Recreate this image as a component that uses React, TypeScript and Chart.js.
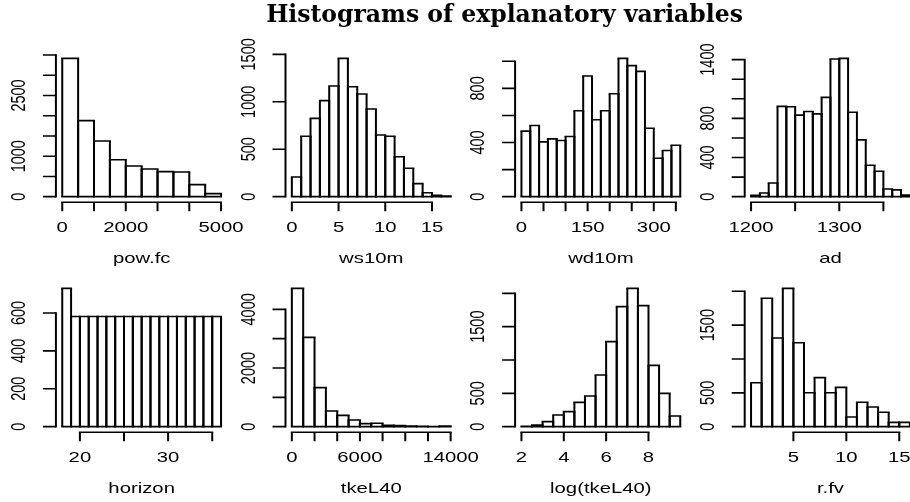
import React, { useEffect, useRef } from "react";
import { Chart, registerables } from "chart.js";

Chart.register(...registerables);

// ---------------- data ----------------
const TITLE = "Histograms of explanatory variables";

const powFcBreaks = [0, 500, 1000, 1500, 2000, 2500, 3000, 3500, 4000, 4500, 5000];
const powFcCounts = [3418, 1878, 1376, 914, 758, 684, 618, 610, 297, 74];
const powFcXTicks = [0, 1000, 2000, 3000, 4000, 5000];
const powFcXLabels = [0, 2000, 5000];
const powFcYTicks = [0, 500, 1000, 1500, 2000, 2500, 3000, 3500];
const powFcYLabels = [0, 1000, 2500];

const ws10mBreaks = [0, 1, 2, 3, 4, 5, 6, 7, 8, 9, 10, 11, 12, 13, 14, 15, 16, 17];
const ws10mCounts = [207, 636, 825, 1012, 1166, 1458, 1159, 1082, 924, 650, 636, 421, 299, 137, 42, 14, 7];
const ws10mXTicks = [0, 5, 10, 15];
const ws10mXLabels = [0, 5, 10, 15];
const ws10mYTicks = [0, 500, 1000, 1500];
const ws10mYLabels = [0, 500, 1000, 1500];

const wd10mBreaks = [0, 20, 40, 60, 80, 100, 120, 140, 160, 180, 200, 220, 240, 260, 280, 300, 320, 340, 360];
const wd10mCounts = [484, 526, 405, 427, 415, 444, 635, 891, 568, 635, 760, 1022, 968, 926, 506, 284, 341, 380];
const wd10mXTicks = [0, 50, 100, 150, 200, 250, 300, 350];
const wd10mXLabels = [0, 150, 300];
const wd10mYTicks = [0, 200, 400, 600, 800, 1000];
const wd10mYLabels = [0, 400, 800];

const adBreaks = [1200, 1210, 1220, 1230, 1240, 1250, 1260, 1270, 1280, 1290, 1300, 1310, 1320, 1330, 1340, 1350, 1360, 1370, 1380];
const adCounts = [14, 38, 140, 922, 918, 833, 870, 846, 1014, 1406, 1413, 863, 580, 321, 259, 79, 69, 17];
const adXTicks = [1200, 1250, 1300, 1350];
const adXLabels = [1200, 1300];
const adYTicks = [0, 200, 400, 600, 800, 1000, 1200, 1400];
const adYLabels = [0, 400, 800, 1400];

const horizonBreaks = [18, 19, 20, 21, 22, 23, 24, 25, 26, 27, 28, 29, 30, 31, 32, 33, 34, 35, 36];
const horizonCounts = [730, 581, 581, 581, 581, 581, 581, 581, 581, 581, 581, 581, 581, 581, 581, 581, 581, 581];
const horizonXTicks = [20, 25, 30, 35];
const horizonXLabels = [20, 30];
const horizonYTicks = [0, 200, 400, 600];
const horizonYLabels = [0, 200, 400, 600];

const tkeBreaks = [0, 1000, 2000, 3000, 4000, 5000, 6000, 7000, 8000, 9000, 10000, 11000, 12000, 13000, 14000];
const tkeCounts = [4716, 3045, 1330, 534, 386, 227, 102, 118, 50, 40, 20, 10, 8, 20];
const tkeXTicks = [0, 2000, 4000, 6000, 8000, 10000, 12000, 14000];
const tkeXLabels = [0, 6000, 14000];
const tkeYTicks = [0, 1000, 2000, 3000, 4000];
const tkeYLabels = [0, 2000, 4000];

const logTkeBreaks = [2, 2.5, 3, 3.5, 4, 4.5, 5, 5.5, 6, 6.5, 7, 7.5, 8, 8.5, 9, 9.5];
const logTkeCounts = [5, 25, 75, 175, 225, 365, 460, 775, 1275, 1800, 2075, 1815, 920, 500, 160];
const logTkeXTicks = [2, 4, 6, 8];
const logTkeXLabels = [2, 4, 6, 8];
const logTkeYTicks = [0, 500, 1000, 1500, 2000];
const logTkeYLabels = [0, 500, 1500];

const rfvBreaks = [1, 2, 3, 4, 5, 6, 7, 8, 9, 10, 11, 12, 13, 14, 15, 16];
const rfvCounts = [650, 1897, 1310, 2044, 1241, 502, 724, 502, 581, 143, 360, 291, 212, 64, 64];
const rfvXTicks = [5, 10, 15];
const rfvXLabels = [5, 10, 15];
const rfvYTicks = [0, 500, 1000, 1500, 2000];
const rfvYLabels = [0, 500, 1500];

// ---------------- layout / style ----------------
const PAGE_W = 910;
const PAGE_H = 502;
const CANVAS_W = 940;
const COL_LEFT = [55.9, 285.5, 515.1, 744.7];
const ROW_TOP = [52.8, 282.8];
const PLOT_W = 171.5;
const PLOT_H = 149.4;
const SX = 1.4; // horizontal text stretch
const FONT = "14.5px 'Liberation Sans', Arial, sans-serif";
const V_LW = 2.0;
const H_LW = 1.6;
const X_TICK_LEN = 9;
const Y_TICK_LEN = 13;

type Panel = {
  name: string;
  breaks: number[];
  counts: number[];
  xTicks: number[];
  xLabels: number[];
  yTicks: number[];
  yLabels: number[];
  row: number;
  col: number;
};

const panels: Panel[] = [
  { name: "pow.fc", breaks: powFcBreaks, counts: powFcCounts, xTicks: powFcXTicks, xLabels: powFcXLabels, yTicks: powFcYTicks, yLabels: powFcYLabels, row: 0, col: 0 },
  { name: "ws10m", breaks: ws10mBreaks, counts: ws10mCounts, xTicks: ws10mXTicks, xLabels: ws10mXLabels, yTicks: ws10mYTicks, yLabels: ws10mYLabels, row: 0, col: 1 },
  { name: "wd10m", breaks: wd10mBreaks, counts: wd10mCounts, xTicks: wd10mXTicks, xLabels: wd10mXLabels, yTicks: wd10mYTicks, yLabels: wd10mYLabels, row: 0, col: 2 },
  { name: "ad", breaks: adBreaks, counts: adCounts, xTicks: adXTicks, xLabels: adXLabels, yTicks: adYTicks, yLabels: adYLabels, row: 0, col: 3 },
  { name: "horizon", breaks: horizonBreaks, counts: horizonCounts, xTicks: horizonXTicks, xLabels: horizonXLabels, yTicks: horizonYTicks, yLabels: horizonYLabels, row: 1, col: 0 },
  { name: "tkeL40", breaks: tkeBreaks, counts: tkeCounts, xTicks: tkeXTicks, xLabels: tkeXLabels, yTicks: tkeYTicks, yLabels: tkeYLabels, row: 1, col: 1 },
  { name: "log(tkeL40)", breaks: logTkeBreaks, counts: logTkeCounts, xTicks: logTkeXTicks, xLabels: logTkeXLabels, yTicks: logTkeYTicks, yLabels: logTkeYLabels, row: 1, col: 2 },
  { name: "r.fv", breaks: rfvBreaks, counts: rfvCounts, xTicks: rfvXTicks, xLabels: rfvXLabels, yTicks: rfvYTicks, yLabels: rfvYLabels, row: 1, col: 3 },
];

function drawText(ctx: CanvasRenderingContext2D, text: string, x: number, y: number, rotate: boolean) {
  ctx.save();
  ctx.translate(x, y);
  ctx.scale(SX, 1);
  if (rotate) ctx.rotate(-Math.PI / 2);
  ctx.fillText(text, 0, 0);
  ctx.restore();
}

function makePlugin(p: Panel) {
  return {
    id: "rhist",
    afterDatasetsDraw(chart: any) {
      const ctx: CanvasRenderingContext2D = chart.ctx;
      const meta = chart.getDatasetMeta(0);
      ctx.save();
      ctx.strokeStyle = "#000";
      ctx.lineCap = "butt";
      meta.data.forEach((el: any) => {
        const { x, y, base, width } = el.getProps(["x", "y", "base", "width"], true);
        const x0 = x - width / 2;
        const x1 = x + width / 2;
        ctx.lineWidth = H_LW;
        ctx.beginPath();
        ctx.moveTo(x0 - V_LW / 2, y);
        ctx.lineTo(x1 + V_LW / 2, y);
        ctx.moveTo(x0 - V_LW / 2, base);
        ctx.lineTo(x1 + V_LW / 2, base);
        ctx.stroke();
        ctx.lineWidth = V_LW;
        ctx.beginPath();
        ctx.moveTo(x0, base);
        ctx.lineTo(x0, y);
        ctx.moveTo(x1, base);
        ctx.lineTo(x1, y);
        ctx.stroke();
      });
      ctx.restore();
    },
    afterDraw(chart: any) {
      const ctx: CanvasRenderingContext2D = chart.ctx;
      const xs = chart.scales.x;
      const ys = chart.scales.y;
      const area = chart.chartArea;
      ctx.save();
      ctx.strokeStyle = "#000";
      ctx.fillStyle = "#000";
      ctx.font = FONT;
      // x axis
      const xb = area.bottom;
      const xp = p.xTicks.map((v) => xs.getPixelForValue(v));
      ctx.lineWidth = H_LW;
      ctx.beginPath();
      ctx.moveTo(xp[0] - V_LW / 2, xb);
      ctx.lineTo(xp[xp.length - 1] + V_LW / 2, xb);
      ctx.stroke();
      ctx.lineWidth = V_LW;
      ctx.beginPath();
      xp.forEach((px) => {
        ctx.moveTo(px, xb);
        ctx.lineTo(px, xb + X_TICK_LEN);
      });
      ctx.stroke();
      ctx.textAlign = "center";
      ctx.textBaseline = "alphabetic";
      p.xLabels.forEach((v) => drawText(ctx, String(v), xs.getPixelForValue(v), xb + 30, false));
      drawText(ctx, p.name, (area.left + area.right) / 2, xb + 61, false);
      // y axis
      const yl = area.left;
      const yp = p.yTicks.map((v) => ys.getPixelForValue(v));
      ctx.lineWidth = V_LW;
      ctx.beginPath();
      ctx.moveTo(yl, yp[0] + H_LW / 2);
      ctx.lineTo(yl, yp[yp.length - 1] - H_LW / 2);
      ctx.stroke();
      ctx.lineWidth = H_LW;
      ctx.beginPath();
      yp.forEach((py) => {
        ctx.moveTo(yl, py);
        ctx.lineTo(yl - Y_TICK_LEN, py);
      });
      ctx.stroke();
      p.yLabels.forEach((v) => drawText(ctx, String(v), yl - 31, ys.getPixelForValue(v), true));
      ctx.restore();
    },
  };
}

function HistPanel({ p }: { p: Panel }) {
  const ref = useRef<HTMLCanvasElement | null>(null);
  useEffect(() => {
    if (!ref.current) return;
    const xmin = p.breaks[0];
    const xmax = p.breaks[p.breaks.length - 1];
    const xr = xmax - xmin;
    const ymax = Math.max(...p.counts);
    const bw = p.breaks[1] - p.breaks[0];
    const left = COL_LEFT[p.col];
    const top = ROW_TOP[p.row];
    const chart = new Chart(ref.current, {
      type: "bar",
      data: {
        datasets: [
          {
            data: p.counts.map((c, i) => ({ x: (p.breaks[i] + p.breaks[i + 1]) / 2, y: c })),
            backgroundColor: "rgba(0,0,0,0)",
            borderWidth: 0,
            barPercentage: 1,
            categoryPercentage: 1,
          },
        ],
      },
      options: {
        responsive: false,
        animation: false,
        devicePixelRatio: 1,
        events: [],
        layout: {
          padding: {
            left,
            top,
            right: CANVAS_W - left - PLOT_W,
            bottom: PAGE_H - top - PLOT_H,
          },
        },
        plugins: { legend: { display: false }, tooltip: { enabled: false }, title: { display: false } },
        scales: {
          x: {
            type: "linear",
            display: false,
            offset: false,
            grid: { offset: false },
            min: xmin - 0.04 * xr,
            max: xmax + 0.04 * xr,
            ticks: { stepSize: bw, includeBounds: false },
            afterBuildTicks: (s: any) => {
              s.ticks = p.breaks.map((v) => ({ value: v }));
            },
          },
          y: {
            type: "linear",
            display: false,
            min: -0.04 * ymax,
            max: 1.04 * ymax,
          },
        },
      } as any,
      plugins: [makePlugin(p)],
    });
    return () => chart.destroy();
  }, [p]);
  return (
    <canvas
      ref={ref}
      width={CANVAS_W}
      height={PAGE_H}
      style={{ position: "absolute", left: 0, top: 0, width: CANVAS_W, height: PAGE_H }}
    />
  );
}

export default function App() {
  return (
    <div
      style={{
        position: "absolute",
        left: 0,
        top: 0,
        width: PAGE_W,
        height: PAGE_H,
        overflow: "hidden",
        background: "#fff",
      }}
    >
      {panels.map((p) => (
        <HistPanel key={p.name} p={p} />
      ))}
      <div
        style={{
          position: "absolute",
          left: 504.5,
          top: 0,
          transform: "translateX(-50%)",
          font: "bold 23.5px 'DejaVu Serif', serif",
          whiteSpace: "nowrap",
          lineHeight: "28px",
          color: "#000",
        }}
      >
        {TITLE}
      </div>
    </div>
  );
}
